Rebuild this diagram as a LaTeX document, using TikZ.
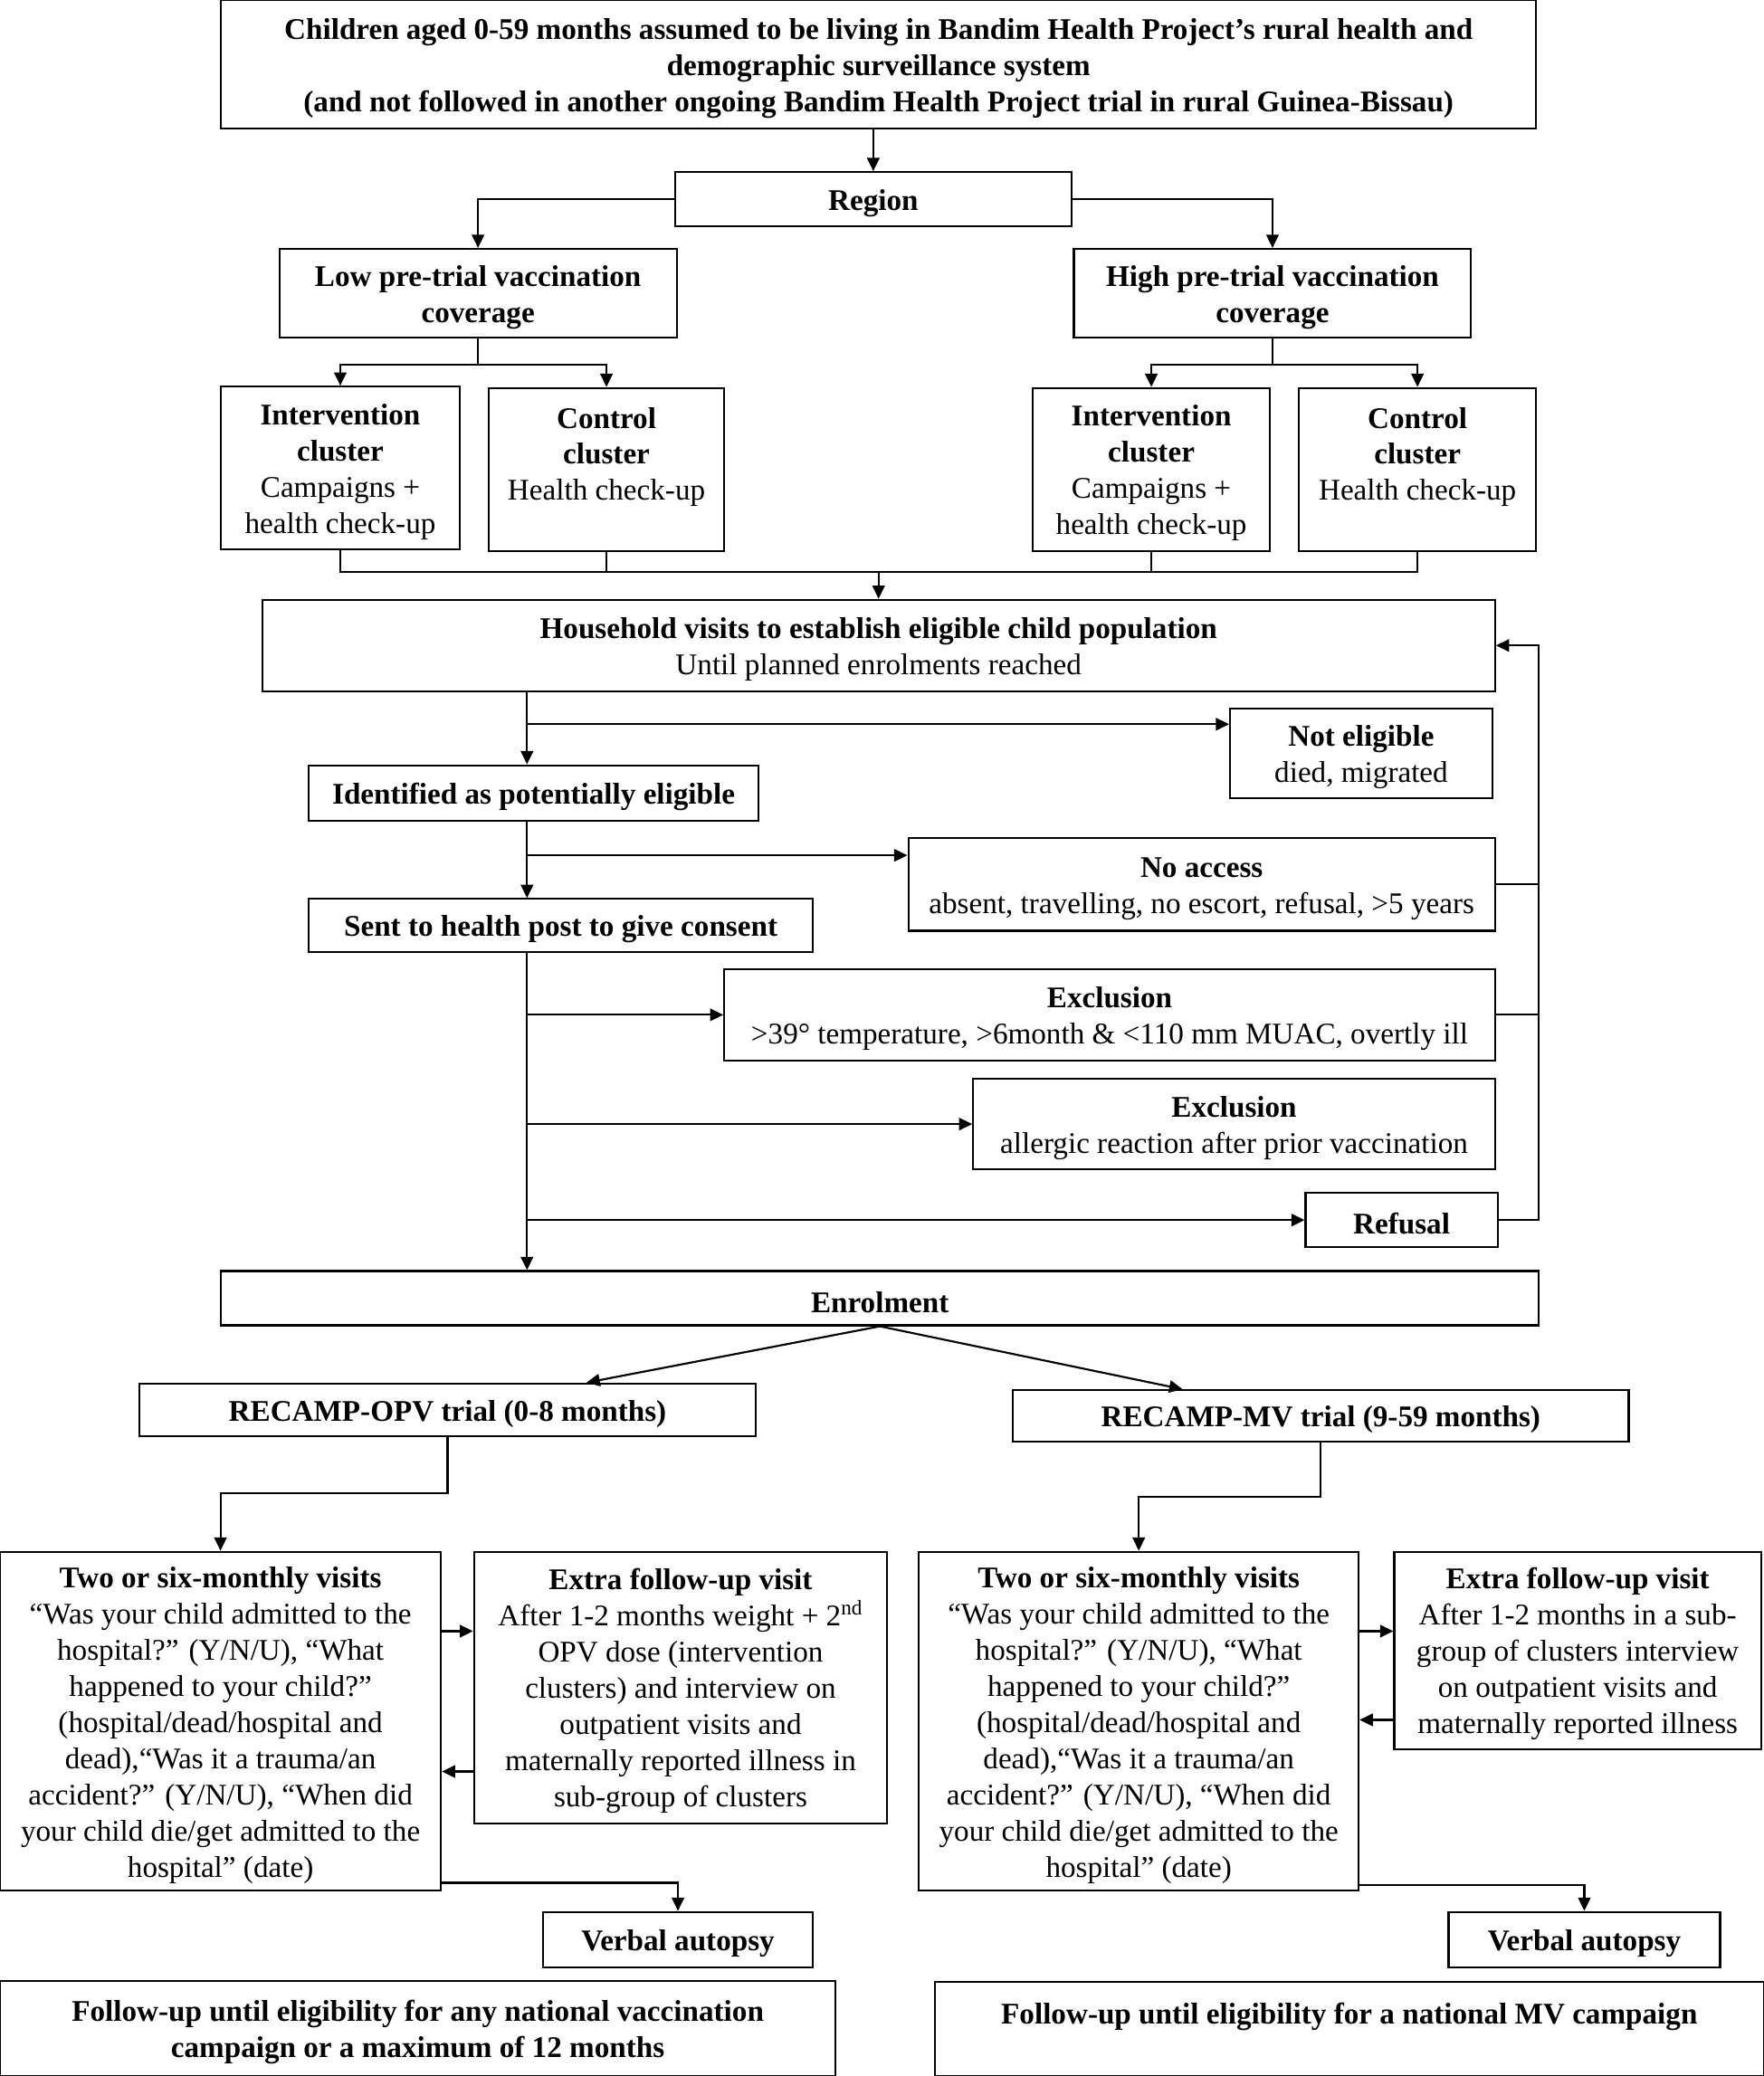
\documentclass[tikz,border=0pt]{standalone}
\usepackage{fontspec}
\setmainfont{Liberation Serif}
\usetikzlibrary{arrows.meta}

\begin{document}
\begin{tikzpicture}[x=0.75pt,y=0.75pt,yscale=-1,xscale=1,
    box/.style={draw, line width=1.1pt, align=center, inner sep=1pt, font=\fontsize{17}{20.5}\selectfont,
        execute at begin node={\rule{0pt}{16.2pt}}},
    link/.style={line width=1.1pt},
    arr/.style={link, -{Triangle[length=7.5pt,width=7pt]}}]
            \useasboundingbox (0,0) rectangle (1332,1568);

            % Text Node
            \node [box, minimum width=744.75pt, minimum height=72.75pt, text height=57.2pt] (top) at (663.5,48.5)
                {\textbf{Children aged 0-59 months assumed to be living in Bandim Health Project’s rural health and}\\
                 \textbf{demographic surveillance system}\\
                 \textbf{(and not followed in another ongoing Bandim Health Project trial in rural Guinea-Bissau)}};
            % Text Node
            \node [box, minimum width=224.25pt, minimum height=30.75pt] (region) at (659.5,150.5) {\textbf{Region}};
            % Text Node
            \node [box, minimum width=225pt, minimum height=50.25pt, text height=36.7pt] (low) at (361,221.5)
                {\textbf{Low pre-trial vaccination}\\ \textbf{coverage}};
            % Text Node
            \node [box, minimum width=225pt, minimum height=50.25pt, text height=36.7pt] (high) at (961,221.5)
                {\textbf{High pre-trial vaccination}\\ \textbf{coverage}};

            %Shape: Rectangle clusters
            \node [box, minimum width=135pt, minimum height=92.25pt, text height=77.7pt] (intL) at (257,353.5)
                {\textbf{Intervention}\\ \textbf{cluster}\\ Campaigns +\\ health check-up};
            \node [box, minimum width=133.5pt, minimum height=92.25pt, text height=57.2pt, text depth=22pt] (ctlL) at (458,354.5)
                {\textbf{Control}\\ \textbf{cluster}\\ Health check-up};
            \node [box, minimum width=134.25pt, minimum height=92.25pt, text height=77.7pt] (intR) at (869.5,354.5)
                {\textbf{Intervention}\\ \textbf{cluster}\\ Campaigns +\\ health check-up};
            \node [box, minimum width=134.25pt, minimum height=92.25pt, text height=57.2pt, text depth=22pt] (ctlR) at (1070.5,354.5)
                {\textbf{Control}\\ \textbf{cluster}\\ Health check-up};

            % Text Node
            \node [box, minimum width=698.25pt, minimum height=51.75pt, text height=36.7pt] (house) at (663.5,487.5)
                {\textbf{Household visits to establish eligible child population}\\ Until planned enrolments reached};
            \node [box, minimum width=148.5pt, minimum height=51pt, text height=36.7pt] (notel) at (1028,569)
                {\textbf{Not eligible}\\ died, migrated};
            \node [box, minimum width=255pt, minimum height=31.5pt] (ident) at (403,599)
                {\textbf{Identified as potentially eligible}};
            \node [box, minimum width=332.25pt, minimum height=52.5pt, text height=36.7pt] (noacc) at (907.5,668)
                {\textbf{No access}\\ absent, travelling, no escort, refusal, >5 years};
            \node [box, minimum width=285.75pt, minimum height=30pt] (sent) at (423.5,699)
                {\textbf{Sent to health post to give consent}};
            \node [box, minimum width=436.5pt, minimum height=51.75pt, text height=36.7pt] (excl1) at (838,766.5)
                {\textbf{Exclusion}\\ >39° temperature, >6month \& <110 mm MUAC, overtly ill};
            \node [box, minimum width=295.5pt, minimum height=51pt, text height=36.7pt] (excl2) at (932,849)
                {\textbf{Exclusion}\\ allergic reaction after prior vaccination};
            \node [box, minimum width=108.75pt, minimum height=30.75pt] (refusal) at (1058.5,921.5)
                {\textbf{Refusal}};
            \node [box, minimum width=746.25pt, minimum height=30.75pt] (enrol) at (664.5,980.5)
                {\textbf{Enrolment}};

            % Text Node
            \node [box, minimum width=349.5pt, minimum height=30pt] (opv) at (338,1065)
                {\textbf{RECAMP-OPV trial (0-8 months)}};
            \node [box, minimum width=348.75pt, minimum height=29.25pt] (mv) at (997.5,1069.5)
                {\textbf{RECAMP-MV trial (9-59 months)}};

            %Shape: Rectangle follow-up
            \node [box, minimum width=249.75pt, minimum height=192pt, text height=180.2pt] (twoL) at (166.5,1300)
                {\textbf{Two or six-monthly visits}\\
                 “Was your child admitted to the\\ hospital?” (Y/N/U), “What\\ happened to your child?”\\
                 (hospital/dead/hospital and\\ dead),“Was it a trauma/an\\ accident?” (Y/N/U), “When did\\
                 your child die/get admitted to the\\ hospital” (date)};
            \node [box, minimum width=234pt, minimum height=153.75pt, text height=139.2pt] (extL) at (514,1274.5)
                {\textbf{Extra follow-up visit}\\ After 1-2 months weight + 2\textsuperscript{nd}\\
                 OPV dose (intervention\\ clusters) and interview on\\ outpatient visits and\\
                 maternally reported illness in\\ sub-group of clusters};
            \node [box, minimum width=249pt, minimum height=192pt, text height=180.2pt] (twoR) at (860,1300)
                {\textbf{Two or six-monthly visits}\\
                 “Was your child admitted to the\\ hospital?” (Y/N/U), “What\\ happened to your child?”\\
                 (hospital/dead/hospital and\\ dead),“Was it a trauma/an\\ accident?” (Y/N/U), “When did\\
                 your child die/get admitted to the\\ hospital” (date)};
            \node [box, minimum width=207.75pt, minimum height=111.75pt, text height=98.2pt] (extR) at (1191.5,1246.5)
                {\textbf{Extra follow-up visit}\\ After 1-2 months in a sub-\\ group of clusters interview\\
                 on outpatient visits and\\ maternally reported illness};
            \node [box, minimum width=153pt, minimum height=31.5pt] (verbL) at (512,1465) {\textbf{Verbal autopsy}};
            \node [box, minimum width=153.75pt, minimum height=31.5pt] (verbR) at (1196.5,1465) {\textbf{Verbal autopsy}};
            \node [box, minimum width=473.25pt, minimum height=54pt, text height=36.7pt] (finL) at (315.5,1532)
                {\textbf{Follow-up until eligibility for any national vaccination}\\ \textbf{campaign or a maximum of 12 months}};
            \node [box, minimum width=469.5pt, minimum height=53.25pt, text depth=21.5pt] (finR) at (1019,1532.5)
                {\textbf{Follow-up until eligibility for a national MV campaign}};

            %Straight Lines region
            \draw [arr] (top.south -| region.north) -- (region.north);
            \draw [arr] (region.west) -| (low.north);
            \draw [arr] (region.east) -| (high.north);
            \draw [link] (low.south) -- ++(0,20) coordinate (lowj);
            \draw [arr] (lowj) -| (intL.north);
            \draw [arr] (lowj) -| (ctlL.north);
            \draw [link] (high.south) -- ++(0,20) coordinate (highj);
            \draw [arr] (highj) -| (intR.north);
            \draw [arr] (highj) -| (ctlR.north);

            %Straight Lines merge
            \coordinate (merge) at (663.5,432);
            \foreach \n in {intL,ctlL,intR,ctlR} \draw [link] (\n.south) |- (merge);
            \draw [arr] (merge) -- (house.north);

            %Straight Lines screening
            \coordinate (spine) at (398,0);
            \draw [arr] (house.south -| spine) -- (ident.north -| spine);
            \draw [arr] (ident.south -| spine) -- (sent.north -| spine);
            \draw [arr] (sent.south -| spine) -- (enrol.north -| spine);
            \draw [arr] (spine |- 0,547) -- (notel.west |- 0,547);
            \draw [arr] (spine |- 0,646) -- (noacc.west |- 0,646);
            \draw [arr] (spine |- excl1.west) -- (excl1.west);
            \draw [arr] (spine |- excl2.west) -- (excl2.west);
            \draw [arr] (spine |- refusal.west) -- (refusal.west);

            %Straight Lines back to household visits
            \coordinate (back) at (1162,0);
            \draw [link] (noacc.east) -- (noacc.east -| back);
            \draw [link] (excl1.east) -- (excl1.east -| back);
            \draw [arr] (refusal.east) -- (refusal.east -| back) -- (back |- house.east) -- (house.east);

            %Straight Lines trials
            \draw [arr] (enrol.south) -- (opv.north -| 443,0);
            \draw [arr] (enrol.south) -- (mv.north -| 893,0);
            \draw [arr] (opv.south) -- ++(0,42) -| (twoL.north);
            \draw [arr] (mv.south) -- ++(0,41) -| (twoR.north);

            %Straight Lines follow-up
            \draw [arr] (twoL.east |- 0,1232) -- (extL.west |- 0,1232);
            \draw [arr] (extL.west |- 0,1338) -- (twoL.east |- 0,1338);
            \draw [arr] (twoR.east |- 0,1232) -- (extR.west |- 0,1232);
            \draw [arr] (extR.west |- 0,1299) -- (twoR.east |- 0,1299);
            \draw [arr] (twoL.east |- 0,1422) -| (verbL.north);
            \draw [arr] (twoR.east |- 0,1424) -| (verbR.north);

        \end{tikzpicture}
\end{document}
